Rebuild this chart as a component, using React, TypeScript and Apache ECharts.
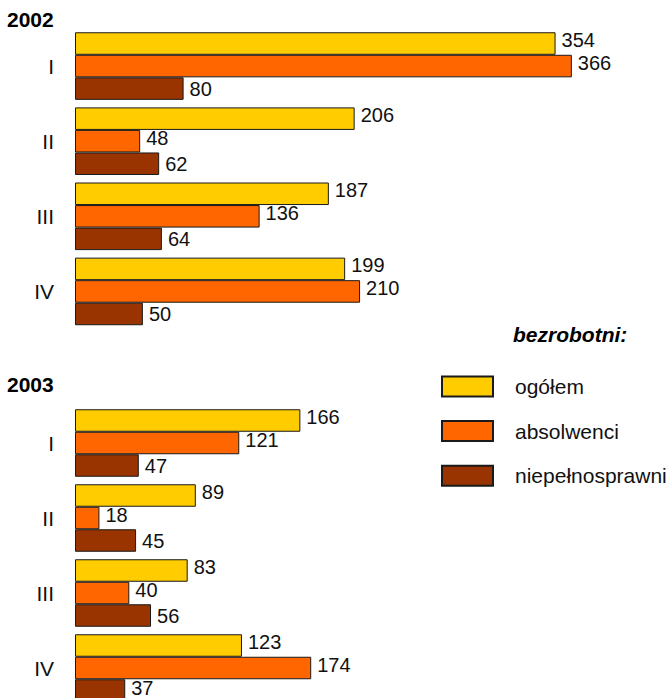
import React, { useEffect, useRef } from "react";
import * as echarts from "echarts";

const categories = ["I", "II", "III", "IV"];
const seriesNames = ["ogółem", "absolwenci", "niepełnosprawni"];
const ogolem2002 = [354, 206, 187, 199];
const absolwenci2002 = [366, 48, 136, 210];
const niepelnosprawni2002 = [80, 62, 64, 50];
const ogolem2003 = [166, 89, 83, 123];
const absolwenci2003 = [121, 18, 40, 174];
const niepelnosprawni2003 = [47, 45, 56, 37];
const yearTitles = ["2002", "2003"];
const legendTitle = "bezrobotni:";

const colors = ["#FFCC00", "#FF6600", "#993300"];
const labelOffsets = [[0, -4], [0, -3], [0, 0]];
const FONT = "Arial, 'Liberation Sans', sans-serif";

export default function App() {
  const ref = useRef<HTMLDivElement>(null);
  useEffect(() => {
    if (!ref.current) return;
    const chart = echarts.init(ref.current, null, { renderer: "svg" });
    const groups = [
      [ogolem2002, absolwenci2002, niepelnosprawni2002],
      [ogolem2003, absolwenci2003, niepelnosprawni2003],
    ];
    const series: any[] = [];
    groups.forEach((g, gi) => {
      g.forEach((vals, si) => {
        const isLastBar = gi === 1 && si === 2;
        series.push({
          type: "bar",
          name: seriesNames[si],
          xAxisIndex: gi,
          yAxisIndex: gi,
          data: vals.map((v, i) =>
            isLastBar && i === vals.length - 1 ? { value: v, label: { offset: [0, -3] } } : v
          ),
          barGap: "0%",
          barCategoryGap: "10%",
          itemStyle: { color: colors[si], borderColor: "#1a1a1a", borderWidth: 1 },
          label: {
            show: true,
            position: "right",
            distance: 6,
            offset: labelOffsets[si],
            color: "#111",
            fontSize: 20,
            lineHeight: 16,
            fontFamily: FONT,
          },
        });
      });
    });
    const grids = [
      { left: 75, top: 28.5, width: 543, height: 300.5 },
      { left: 75, top: 405.5, width: 543, height: 300 },
    ];
    chart.setOption({
      animation: false,
      backgroundColor: "#fff",
      title: [
        { text: yearTitles[0], left: 7, top: 9, padding: 0, textStyle: { fontSize: 21, fontWeight: "bold", fontFamily: FONT, color: "#000" } },
        { text: yearTitles[1], left: 7, top: 373.5, padding: 0, textStyle: { fontSize: 21, fontWeight: "bold", fontFamily: FONT, color: "#000" } },
        { text: legendTitle, left: 513, top: 324, padding: 0, textStyle: { fontSize: 21, fontWeight: "bold", fontStyle: "italic", fontFamily: FONT, color: "#000" } },
      ],
      legend: {
        data: seriesNames,
        orient: "vertical",
        left: 441,
        top: 375.5,
        padding: 0,
        itemWidth: 51,
        itemHeight: 20,
        itemGap: 22.6,
        icon: "rect",
        selectedMode: false,
        textStyle: { fontSize: 21, fontFamily: FONT, color: "#111", padding: [0, 0, 0, 17] },
      },
      grid: grids,
      xAxis: grids.map((_, i) => ({
        type: "value",
        gridIndex: i,
        min: 0,
        max: 400,
        show: false,
      })),
      yAxis: grids.map((_, i) => ({
        type: "category",
        gridIndex: i,
        data: categories,
        inverse: true,
        axisLine: { show: false },
        axisTick: { show: false },
        axisLabel: { margin: 21, fontSize: 21, color: "#111", fontFamily: FONT },
      })),
      series,
    });
    return () => chart.dispose();
  }, []);
  return (
    <div style={{ position: "absolute", left: 0, top: 0, width: 671, height: 698, overflow: "hidden" }}>
      <div ref={ref} style={{ width: 671, height: 720 }} />
    </div>
  );
}
